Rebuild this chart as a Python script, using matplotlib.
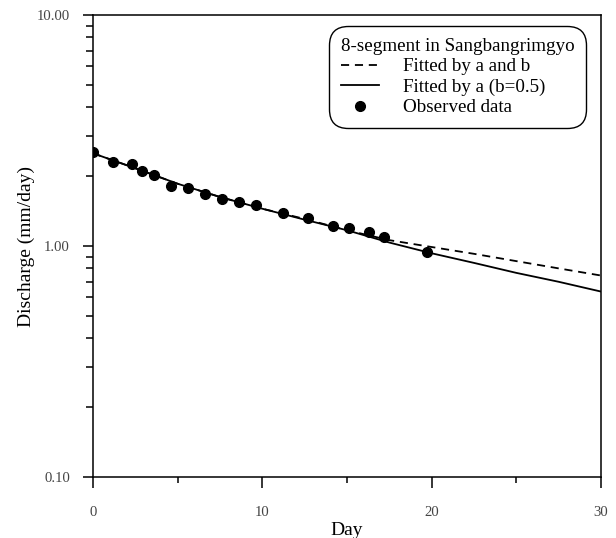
import matplotlib
matplotlib.use("Agg")
import matplotlib.pyplot as plt
from matplotlib.ticker import FixedLocator, LogLocator, NullFormatter, FixedFormatter

# Observed recession discharge
obs_day = [0, 1.2, 2.3, 2.9, 3.6, 4.6, 5.6, 6.6, 7.6, 8.6, 9.6, 11.2, 12.7,
           14.2, 15.1, 16.3, 17.2, 19.7]
obs_q = [2.56, 2.32, 2.27, 2.11, 2.02, 1.81, 1.78, 1.68, 1.59, 1.55, 1.50,
         1.39, 1.32, 1.22, 1.20, 1.15, 1.09, 0.94]

# Fitted recession curves
fit_day = [0, 2.5, 5, 7.5, 10, 12.5, 15, 17.5, 20, 22.5, 25, 27.5, 30]
fit_ab = [2.52, 2.17, 1.86, 1.63, 1.45, 1.31, 1.17, 1.06, 0.99, 0.925, 0.86, 0.80, 0.745]
fit_a = [2.52, 2.17, 1.86, 1.63, 1.45, 1.30, 1.17, 1.035, 0.93, 0.845, 0.765, 0.70, 0.635]

plt.rcParams['font.family'] = ['Liberation Serif', 'DejaVu Serif']

fig = plt.figure(figsize=(6.16, 5.38), dpi=100)
ax = fig.add_axes([0.151, 0.1134, 0.8246, 0.8587])

ax.plot(fit_day, fit_ab, color='black', lw=1.3, dashes=(4.5, 3.2),
        label='Fitted by a and b')
ax.plot(fit_day, fit_a, color='black', lw=1.3, label='Fitted by a (b=0.5)')
ax.plot(obs_day, obs_q, 'o', color='black', ms=7, label='Observed data')

ax.set_yscale('log')
ax.set_xlim(0, 30)
ax.set_ylim(0.1, 10)

ax.xaxis.set_major_locator(FixedLocator([0, 10, 20, 30]))
ax.xaxis.set_minor_locator(FixedLocator([5, 15, 25]))
ax.yaxis.set_major_locator(FixedLocator([0.1, 1, 10]))
ax.yaxis.set_major_formatter(FixedFormatter(['0.10', '1.00', '10.00']))
ax.yaxis.set_minor_locator(LogLocator(base=10, subs=range(2, 10)))
ax.yaxis.set_minor_formatter(NullFormatter())

ax.tick_params(axis='both', which='major', direction='out', width=1.1,
               labelsize=10.6, labelcolor='#444444', color='black')
ax.tick_params(axis='x', which='major', length=8, pad=13)
ax.tick_params(axis='x', which='minor', direction='out', length=4.5, width=1.1)
ax.tick_params(axis='y', which='major', length=7.5, pad=9)
ax.tick_params(axis='y', which='minor', direction='out', length=5, width=1.1)

for s in ax.spines.values():
    s.set_linewidth(1.1)

ax.set_xlabel('Day', fontsize=14, labelpad=2)
ax.set_ylabel('Discharge (mm/day)', fontsize=14, labelpad=1)

leg = ax.legend(title='8-segment in Sangbangrimgyo', loc='upper right',
                bbox_to_anchor=(0.982, 0.988), fontsize=13.7, title_fontsize=13.7,
                frameon=True, fancybox=True, edgecolor='black',
                framealpha=1, alignment='left', handlelength=2.0,
                handletextpad=1.3, borderpad=0.42, labelspacing=0.16)
leg.get_frame().set_linewidth(1.0)
leg.get_frame().set_boxstyle('round,pad=0.2,rounding_size=1.0')

fig.savefig('out.png', dpi=100)
